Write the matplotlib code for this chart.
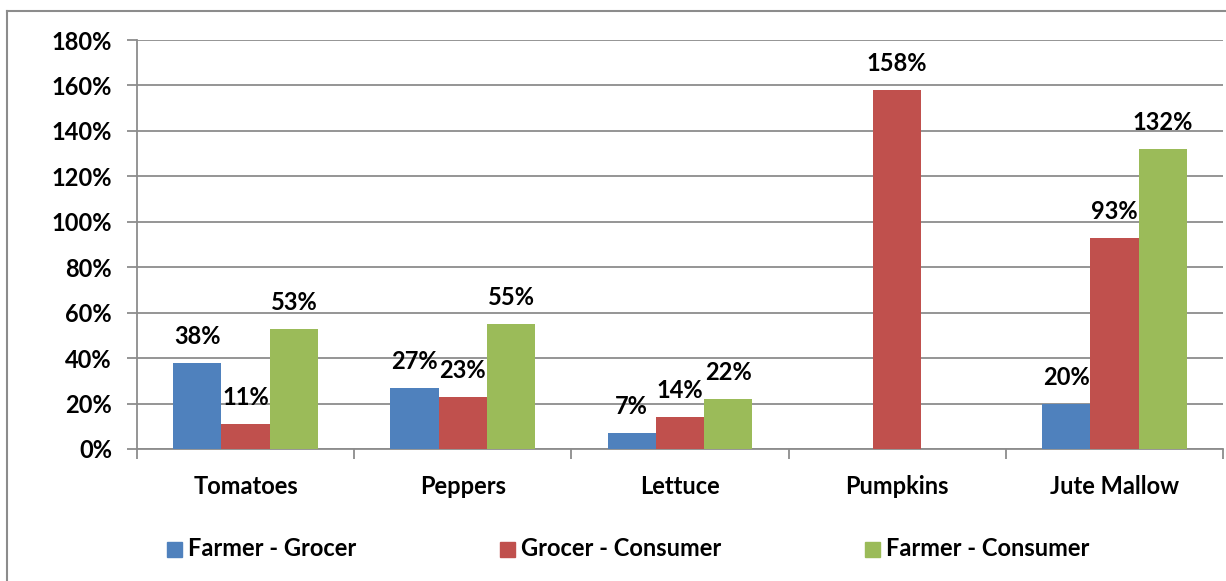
import matplotlib
matplotlib.use("Agg")
import matplotlib.pyplot as plt
import numpy as np
from matplotlib.patches import Rectangle
from matplotlib.lines import Line2D

categories = ["Tomatoes", "Peppers", "Lettuce", "Pumpkins", "Jute Mallow"]
series_names = ["Farmer - Grocer", "Grocer - Consumer", "Farmer - Consumer"]
farmer_grocer = [0.38, 0.27, 0.07, np.nan, 0.20]
grocer_consumer = [0.11, 0.23, 0.14, 1.58, 0.93]
farmer_consumer = [0.53, 0.55, 0.22, np.nan, 1.32]
y_ticks = [0.0, 0.2, 0.4, 0.6, 0.8, 1.0, 1.2, 1.4, 1.6, 1.8]

colors = ["#4F81BD", "#C0504D", "#9BBB59"]
grid_col = "#8C8C8C"

plt.rcParams['font.family'] = ['Lato', 'DejaVu Sans']
plt.rcParams['font.weight'] = 'bold'
FS = 17

W, H = 1226, 581
fig = plt.figure(figsize=(W / 100, H / 100), dpi=100)
ax = fig.add_axes([137 / W, 1 - 449 / H, (1223 - 137) / W, (449 - 40) / H])

# figure border
fig.add_artist(Line2D([7 / W, 1.0], [1 - 11 / H, 1 - 11 / H], color="#8C8C8C", lw=1.5, transform=fig.transFigure))
fig.add_artist(Line2D([7 / W, 7 / W], [0, 1 - 11 / H], color="#8C8C8C", lw=1.5, transform=fig.transFigure))

x = np.arange(len(categories))
w = 1 / 4.5
all_series = [farmer_grocer, grocer_consumer, farmer_consumer]
for i, (vals, col) in enumerate(zip(all_series, colors)):
    pos = x + (i - 1) * w
    v = np.array(vals, dtype=float)
    ax.bar(pos, np.nan_to_num(v), width=w, color=col, edgecolor="none", zorder=3, label=series_names[i])
    for p, val in zip(pos, v):
        if np.isnan(val):
            continue
        ax.annotate(f"{val * 100:.0f}%", xy=(p, val), xytext=(0, 19), textcoords="offset points",
                    ha="center", va="center", fontsize=FS, fontweight="bold", zorder=5)

ax.set_xlim(-0.5, len(categories) - 0.5)
ax.set_ylim(0, 1.8)
ax.set_yticks(y_ticks)
ax.set_yticklabels([f"{t * 100:.0f}%" for t in y_ticks], fontsize=FS, fontweight="bold")
ax.yaxis.grid(True, color=grid_col, lw=1.3, zorder=0)
ax.set_axisbelow(True)

ax.set_xticks(np.arange(-0.5, len(categories), 1.0))
ax.set_xticklabels([])
ax.set_xticks(x, minor=True)
ax.set_xticklabels(categories, minor=True, fontsize=FS, fontweight="bold")
ax.tick_params(axis="x", which="minor", length=0, pad=19)
ax.tick_params(axis="x", which="major", length=7, color=grid_col, width=1.3, direction="out")
ax.tick_params(axis="y", length=7, color=grid_col, width=1.3, pad=11)

for s in ["top", "right"]:
    ax.spines[s].set_visible(False)
for s in ["left", "bottom"]:
    ax.spines[s].set_color(grid_col)
    ax.spines[s].set_linewidth(1.3)

# legend
leg_x = [167, 500, 865]
for name, col, lx in zip(series_names, colors, leg_x):
    fig.add_artist(Rectangle((lx / W, 1 - 557 / H), 15 / W, 15 / H, color=col, transform=fig.transFigure))
    fig.text((lx + 21) / W, 1 - 549 / H, name, fontsize=FS, fontweight="bold", va="center", ha="left")

fig.savefig("out.png", dpi=100)
